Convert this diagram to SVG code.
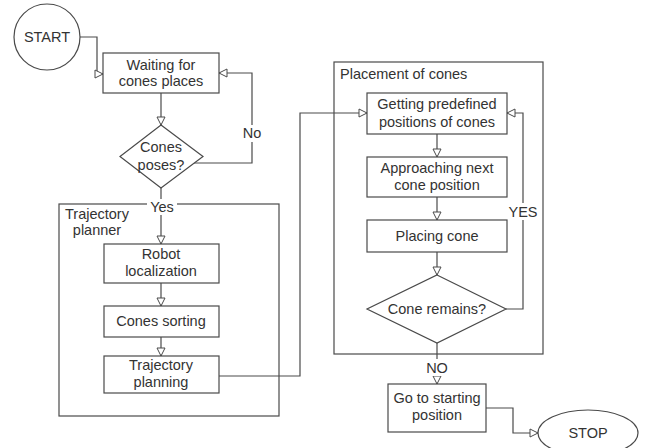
<svg xmlns="http://www.w3.org/2000/svg" width="645" height="448" viewBox="0 0 645 448">
<style>
.shape{fill:#fff;stroke:#4a4a4a;stroke-width:1.2}
.cont{fill:none;stroke:#4a4a4a;stroke-width:1.2}
.edge{fill:none;stroke:#4a4a4a;stroke-width:1.2}
text{font-family:"Liberation Sans",Arial,sans-serif;font-size:14.5px;fill:#333;text-anchor:middle}
.lbl{text-anchor:start}
.bg{fill:#fff;stroke:none}
</style>
<defs>
<marker id="arr" markerUnits="userSpaceOnUse" markerWidth="10" markerHeight="10" refX="8" refY="4" orient="auto" viewBox="-1 -1 10 10">
<path d="M0,0 L8,4 L0,8 Z" fill="#fff" stroke="#4a4a4a" stroke-width="1"/>
</marker>
</defs>
<rect width="645" height="448" fill="#fff"/>
<g id="trajectory-planner">
<rect class="cont" x="59" y="204" width="220" height="212"/>
<text x="97" y="219">Trajectory</text>
<text x="97" y="235">planner</text>
</g>
<g id="placement-of-cones">
<rect class="cont" x="334" y="62" width="209" height="292"/>
<text class="lbl" x="340" y="79">Placement of cones</text>
</g>
<g id="connectors">
<path class="edge" d="M80,37 H97 V74 H103" marker-end="url(#arr)"/>
<path class="edge" d="M161,93 V125" marker-end="url(#arr)"/>
<path class="edge" d="M194,163 H252 V73 H219" marker-end="url(#arr)"/>
<path class="edge" d="M161,188 V244" marker-end="url(#arr)"/>
<path class="edge" d="M161,283 V306" marker-end="url(#arr)"/>
<path class="edge" d="M161,337 V356" marker-end="url(#arr)"/>
<path class="edge" d="M219,376 H300 V113 H367" marker-end="url(#arr)"/>
<path class="edge" d="M437,134 V157" marker-end="url(#arr)"/>
<path class="edge" d="M437,197 V220" marker-end="url(#arr)"/>
<path class="edge" d="M437,252 V275" marker-end="url(#arr)"/>
<path class="edge" d="M506,309 H523 V113 H507" marker-end="url(#arr)"/>
<path class="edge" d="M437,343 V384" marker-end="url(#arr)"/>
<path class="edge" d="M486,408 H513 V433 H538" marker-end="url(#arr)"/>
<rect class="bg" x="242" y="125" width="21" height="17"/>
<text x="252" y="138">No</text>
<rect class="bg" x="147" y="199" width="30" height="16"/>
<text x="162" y="212">Yes</text>
<rect class="bg" x="507" y="203" width="32" height="17"/>
<text x="523" y="217">YES</text>
<rect class="bg" x="424" y="359" width="27" height="17"/>
<text x="437" y="373">NO</text>
</g>
<g id="start">
<circle class="shape" cx="47" cy="37" r="33"/>
<text x="47" y="42">START</text>
</g>
<g id="waiting">
<rect class="shape" x="103" y="53" width="116" height="40"/>
<text x="161" y="70">Waiting for</text>
<text x="161" y="86">cones places</text>
</g>
<g id="cones-poses">
<path class="shape" d="M161,125 L203,156.5 L161,188 L120,156.5 Z"/>
<text x="161" y="152">Cones</text>
<text x="161" y="170">poses?</text>
</g>
<g id="robot-localization">
<rect class="shape" x="104" y="244" width="115" height="39"/>
<text x="161" y="259">Robot</text>
<text x="161" y="276">localization</text>
</g>
<g id="cones-sorting">
<rect class="shape" x="104" y="306" width="115" height="31"/>
<text x="161" y="326">Cones sorting</text>
</g>
<g id="trajectory-planning">
<rect class="shape" x="104" y="356" width="115" height="37"/>
<text x="161" y="370">Trajectory</text>
<text x="161" y="387">planning</text>
</g>
<g id="getting-positions">
<rect class="shape" x="367" y="93" width="140" height="41"/>
<text x="437" y="109">Getting predefined</text>
<text x="437" y="127">positions of cones</text>
</g>
<g id="approaching">
<rect class="shape" x="367" y="157" width="140" height="40"/>
<text x="437" y="173">Approaching next</text>
<text x="437" y="190">cone position</text>
</g>
<g id="placing-cone">
<rect class="shape" x="367" y="220" width="140" height="32"/>
<text x="437" y="241">Placing cone</text>
</g>
<g id="cone-remains">
<path class="shape" d="M437,275 L506,309 L437,343 L367,309 Z"/>
<text x="437" y="314">Cone remains?</text>
</g>
<g id="go-to-start">
<rect class="shape" x="388" y="384" width="98" height="48"/>
<text x="437" y="403">Go to starting</text>
<text x="437" y="420">position</text>
</g>
<g id="stop">
<ellipse class="shape" cx="588" cy="433" rx="50" ry="23"/>
<text x="588" y="438">STOP</text>
</g>
</svg>
